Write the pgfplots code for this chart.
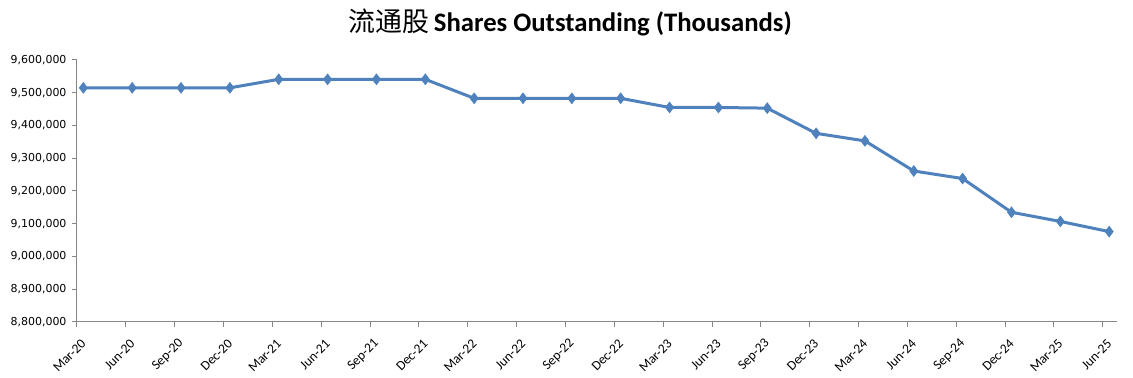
\documentclass[border=0pt]{standalone}
\usepackage{pgfplots}
\pgfplotsset{compat=1.18}
\usepackage{fontspec}
\setmainfont{DejaVu Sans}
\newfontfamily\titlefont{Carlito}
\newfontfamily\cjk{Noto Sans CJK SC}
\definecolor{line}{HTML}{4F81BD}
\definecolor{axisgray}{HTML}{868686}
\begin{document}
\begin{tikzpicture}
\begin{axis}[
  name=a,
  scale only axis,
  width=1040bp, height=262bp,
  xmin=-0.13, xmax=21.16,
  ymin=8800000, ymax=9600000,
  ytick={8800000,8900000,9000000,9100000,9200000,9300000,9400000,9500000,9600000},
  /pgf/number format/fixed,
  /pgf/number format/1000 sep={,},
  /pgf/number format/assume math mode=true,
  yticklabel style={font=\fontsize{11}{12}\selectfont, xshift=-2bp},
  scaled y ticks=false,
  xtick={-0.13,0.87,1.87,2.87,3.87,4.87,5.87,6.87,7.87,8.87,9.87,10.87,11.87,12.87,13.87,14.87,15.87,16.87,17.87,18.87,19.87,20.87},
  xticklabels={Mar-20,Jun-20,Sep-20,Dec-20,Mar-21,Jun-21,Sep-21,Dec-21,Mar-22,Jun-22,Sep-22,Dec-22,Mar-23,Jun-23,Sep-23,Dec-23,Mar-24,Jun-24,Sep-24,Dec-24,Mar-25,Jun-25},
  xticklabel style={font=\titlefont\fontsize{13.5}{15}\selectfont, xshift=9bp, yshift=-12bp, rotate=45, anchor=east},
  axis x line*=bottom, axis y line*=left,
  axis line style={axisgray, line width=1bp, -},
  tick style={axisgray, line width=1bp},
  tick align=outside, major tick length=5bp,
  clip=false,
  title={{\cjk\fontsize{27}{30}\selectfont 流通股}\hspace{5bp}{\titlefont\bfseries Shares Outstanding (Thousands)}},
  title style={font=\fontsize{26.8}{30}\selectfont, yshift=14bp, xshift=-27bp},
]
\addplot[color=line, line width=3bp, mark=diamond*, mark size=5.5bp, mark options={fill=line, line width=0.5bp}] coordinates {
(0,9515000) (1,9515000) (2,9515000) (3,9515000)
(4,9541000) (5,9541000) (6,9541000) (7,9541000)
(8,9483000) (9,9483000) (10,9483000) (11,9483000)
(12,9455000) (13,9455000) (14,9453000)
(15,9376000) (16,9353000) (17,9261000) (18,9238000)
(19,9135000) (20,9107000) (21,9076000)
};
\end{axis}
\path (a.south west) ++(-77bp,-55bp) coordinate (bl);
\path (a.north east) ++(16bp,60bp) coordinate (tr);
\path[use as bounding box] (bl) rectangle (tr);
\end{tikzpicture}
\end{document}
